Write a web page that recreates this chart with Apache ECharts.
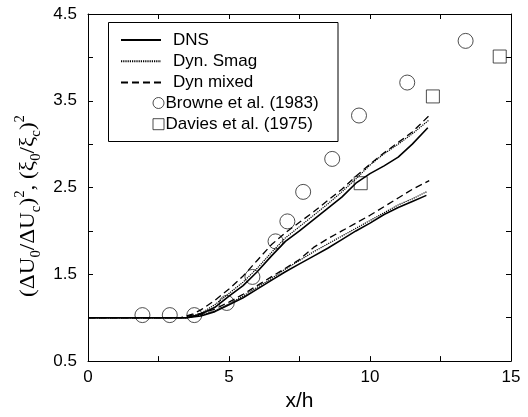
<!DOCTYPE html>
<html><head><meta charset="utf-8">
<script src="https://cdn.jsdelivr.net/npm/echarts@6/dist/echarts.min.js"></script>
<style>html,body{margin:0;padding:0;background:#fff}#c{width:528px;height:417px}</style>
</head><body><div id="c"></div><script>
const xTickLabels = ['0','5','10','15'];
const yTickLabels = ['0.5','1.5','2.5','3.5','4.5'];
const legendLines = ['DNS','Dyn. Smag','Dyn mixed'];
const legendMarks = ['Browne et al. (1983)','Davies et al. (1975)'];

// upper group
const dnsUpper = [[0,1.0],[3.5,1.0],[4,1.04],[4.5,1.12],[5,1.25],[5.5,1.37],[6,1.53],[6.5,1.71],[7,1.88],[7.5,2.0],[8,2.13],[8.5,2.26],[9,2.39],[9.5,2.55],[10,2.66],[10.5,2.75],[11,2.85],[11.5,3.0],[12.05,3.19]];
const smagUpper = [[0,1.0],[3.5,1.0],[4,1.05],[4.5,1.15],[5,1.28],[5.5,1.41],[6,1.57],[6.5,1.75],[7,1.92],[7.5,2.05],[8,2.18],[8.5,2.31],[9,2.45],[9.5,2.6],[10,2.76],[10.5,2.89],[11,3.0],[11.5,3.12],[12.1,3.28]];
const mixedUpper = [[0,1.0],[3.3,1.0],[3.7,1.04],[4,1.09],[4.5,1.2],[5,1.33],[5.5,1.48],[6,1.66],[6.5,1.84],[7,1.98],[7.5,2.1],[8,2.22],[8.5,2.35],[9,2.48],[9.5,2.63],[10,2.77],[10.5,2.9],[11,3.02],[11.5,3.14],[12.1,3.33]];
// lower group
const dnsLower = [[0,1.0],[3.5,1.0],[4,1.02],[4.5,1.07],[5,1.15],[5.5,1.23],[6,1.33],[6.5,1.43],[7,1.53],[7.5,1.62],[8,1.71],[8.5,1.8],[9,1.9],[9.5,2.0],[10,2.09],[10.5,2.19],[11,2.27],[11.5,2.34],[12,2.41]];
const smagLower = [[0,1.0],[3.5,1.0],[4,1.03],[4.5,1.08],[5,1.16],[5.5,1.25],[6,1.35],[6.5,1.45],[7,1.56],[7.5,1.66],[8,1.76],[8.5,1.85],[9,1.94],[9.5,2.03],[10,2.12],[10.5,2.21],[11,2.3],[11.5,2.37],[12,2.45]];
const mixedLower = [[0,1.0],[3.3,1.0],[3.7,1.03],[4,1.05],[4.5,1.1],[5,1.18],[5.5,1.27],[6,1.37],[6.5,1.47],[7,1.57],[7.5,1.67],[8,1.81],[8.5,1.91],[9,2.0],[9.5,2.09],[10,2.18],[10.5,2.28],[11,2.38],[11.5,2.48],[12.1,2.58]];
// experiments
const browne = [[1.93,1.03],[2.9,1.03],[3.77,1.03],[4.92,1.17],[5.83,1.47],[6.65,1.88],[7.07,2.11],[7.63,2.45],[8.66,2.83],[9.61,3.33],[11.32,3.71],[13.39,4.19]];
const davies = [[9.67,2.55],[12.23,3.55],[14.6,4.01]];

const chart = echarts.init(document.getElementById('c'), null, {renderer:'canvas'});
const SANS = 'Liberation Sans, Arial, sans-serif';
const SERIF = 'Liberation Serif, Times New Roman, serif';

function lineSeries(name, data, type, width){
  return {type:'line', name, data, symbol:'none', showSymbol:false, z:3,
    lineStyle:{color:'#000', width, type}, itemStyle:{color:'#000'}, animation:false};
}

// y-axis title with measured scaling
const rich = {
  n:{fontFamily:SERIF, fontSize:22, lineHeight:30, color:'#000', verticalAlign:'middle'},
  s:{fontFamily:SERIF, fontSize:14, lineHeight:14, color:'#000', verticalAlign:'bottom'},
  p:{fontFamily:SERIF, fontSize:14, lineHeight:14, color:'#000', verticalAlign:'top'}
};
const segs = [['n','(ΔU'],['s','0'],['n','/ΔU'],['s','c'],['n',')'],['p','2'],['n',', (ξ'],['s','0'],['n','/ξ'],['s','c'],['n',')'],['p','2']];
const ctx = document.createElement('canvas').getContext('2d');
let w = 0;
segs.forEach(([k,t])=>{ ctx.font = rich[k].fontSize + 'px ' + SERIF; w += ctx.measureText(t).width; });
const yTitleScale = 182 / w;
const yTitleText = segs.map(([k,t])=>'{'+k+'|'+t+'}').join('');

const axisCommon = {
  type:'value',
  axisLine:{show:true, onZero:false, lineStyle:{color:'#000', width:1}},
  axisTick:{show:true, inside:true, length:5, lineStyle:{color:'#000', width:1}},
  splitLine:{show:false}
};

chart.setOption({
  animation:false,
  backgroundColor:'#fff',
  grid:{left:88, top:14, right:17, bottom:51, containLabel:false},
  xAxis:[
    Object.assign({}, axisCommon, {min:0, max:15, interval:2.5, position:'bottom',
      axisLabel:{color:'#000', fontSize:17, fontFamily:SANS, margin:8,
        formatter:v=>xTickLabels.includes(String(v))?String(v):''},
      name:'x/h', nameLocation:'middle', nameGap:26,
      nameTextStyle:{color:'#000', fontSize:21, fontFamily:SANS}}),
    Object.assign({}, axisCommon, {min:0, max:15, interval:2.5, position:'top', axisLabel:{show:false}})
  ],
  yAxis:[
    Object.assign({}, axisCommon, {min:0.5, max:4.5, interval:0.5, position:'left',
      axisLabel:{color:'#000', fontSize:17, fontFamily:SANS, margin:11,
        formatter:v=>yTickLabels.includes(v.toFixed(1))?v.toFixed(1):''}}),
    Object.assign({}, axisCommon, {min:0.5, max:4.5, interval:0.5, position:'right', axisLabel:{show:false}})
  ],
  legend:[
    {data:legendLines, orient:'vertical', left:120, top:31.5, itemWidth:40, itemHeight:14, itemGap:4.2,
     padding:0, selectedMode:false,
     itemStyle:{color:'transparent', borderColor:'transparent', borderWidth:0, opacity:0},
     textStyle:{fontSize:17, lineHeight:17, fontFamily:SANS, color:'#000', padding:[0,0,0,7]}},
    {data:legendMarks.map(n=>({name:n, itemStyle:{color:'transparent', borderColor:'#222', borderWidth:1}})),
     orient:'vertical', left:152.5, top:94.5, itemWidth:11, itemHeight:11, itemGap:4.2,
     padding:0, selectedMode:false,
     textStyle:{fontSize:17, lineHeight:17, fontFamily:SANS, color:'#000', padding:[0,0,0,-3.5]}}
  ],
  graphic:[
    {type:'rect', z:1, shape:{x:108.5, y:22.5, width:229.5, height:119}, style:{fill:'#fff', stroke:'#000', lineWidth:1}},
    {type:'text', z:5, x:28, y:206, rotation:Math.PI/2, scaleX:yTitleScale,
     style:{text:yTitleText, x:0, y:0, align:'center', textAlign:'center', verticalAlign:'middle', textVerticalAlign:'middle', rich:rich}}
  ],
  series:[
    lineSeries('DNS', dnsUpper, 'solid', 1.6),
    lineSeries('DNS', dnsLower, 'solid', 1.6),
    lineSeries('Dyn. Smag', smagUpper, [1.2,1], 1.2),
    lineSeries('Dyn. Smag', smagLower, [1.2,1], 1.2),
    lineSeries('Dyn mixed', mixedUpper, [7,4], 1.3),
    lineSeries('Dyn mixed', mixedLower, [7,4], 1.3),
    {type:'scatter', name:legendMarks[0], data:browne, symbol:'circle', symbolSize:15, z:2,
     itemStyle:{color:'transparent', borderColor:'#222', borderWidth:1}},
    {type:'scatter', name:legendMarks[1], data:davies, symbol:'rect', symbolSize:13, z:2,
     itemStyle:{color:'transparent', borderColor:'#222', borderWidth:1}}
  ]
});
</script></body></html>
